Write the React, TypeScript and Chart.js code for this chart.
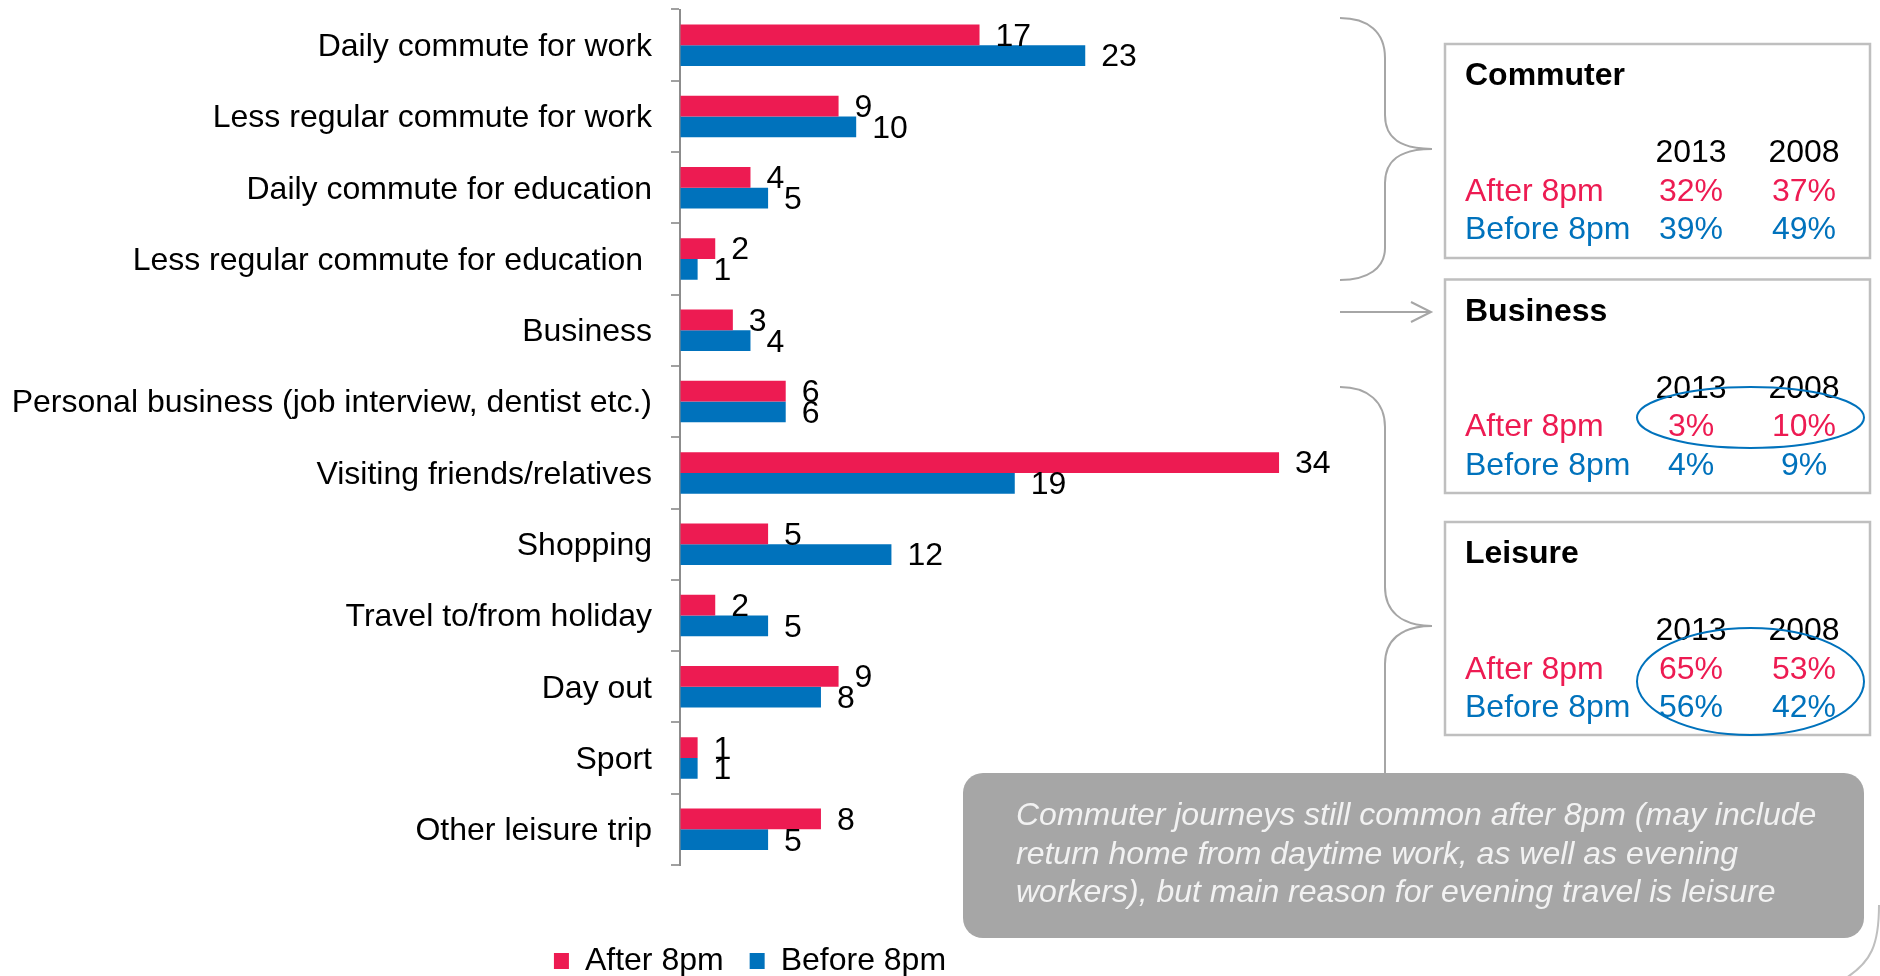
import React, { useEffect, useRef } from "react";
import { Chart, registerables } from "chart.js";

Chart.register(...registerables);

// ---------- data ----------
const categories = [
  "Daily commute for work",
  "Less regular commute for work",
  "Daily commute for education",
  "Less regular commute for education ",
  "Business",
  "Personal business (job interview, dentist etc.)",
  "Visiting friends/relatives",
  "Shopping",
  "Travel to/from holiday",
  "Day out",
  "Sport",
  "Other leisure trip",
];
const afterValues = [17, 9, 4, 2, 3, 6, 34, 5, 2, 9, 1, 8];
const beforeValues = [23, 10, 5, 1, 4, 6, 19, 12, 5, 8, 1, 5];
const seriesNames = ["After 8pm", "Before 8pm"];

const years = ["2013", "2008"];
const panelTitles = ["Commuter", "Business", "Leisure"];
const panelAfter = [
  [32, 37],
  [3, 10],
  [65, 53],
];
const panelBefore = [
  [39, 49],
  [4, 9],
  [56, 42],
];
const noteLines = [
  "Commuter journeys still common after 8pm (may include",
  "return home from daytime work, as well as evening",
  "workers), but main reason for evening travel is leisure",
];

// ---------- styles ----------
const RED = "#ED1B52";
const BLUE = "#0072BC";
const FONT = "'Liberation Sans', Arial, Helvetica, sans-serif";
const FS = 32;

const valueLabels = {
  id: "valueLabels",
  afterDatasetsDraw(chart: any) {
    const ctx = chart.ctx;
    ctx.save();
    ctx.font = `${FS}px ${FONT}`;
    ctx.fillStyle = "#000";
    ctx.textAlign = "left";
    ctx.textBaseline = "middle";
    chart.data.datasets.forEach((ds: any, di: number) => {
      const meta = chart.getDatasetMeta(di);
      meta.data.forEach((bar: any, i: number) => {
        ctx.fillText(String(ds.data[i]), bar.x + 16, bar.y + 2);
      });
    });
    ctx.restore();
  },
};

function BarChart() {
  const ref = useRef<HTMLCanvasElement | null>(null);
  useEffect(() => {
    if (!ref.current) return;
    const chart = new Chart(ref.current, {
      type: "bar",
      data: {
        labels: categories,
        datasets: [
          {
            label: seriesNames[0],
            data: afterValues,
            backgroundColor: RED,
            categoryPercentage: 0.582,
            barPercentage: 1,
          },
          {
            label: seriesNames[1],
            data: beforeValues,
            backgroundColor: BLUE,
            categoryPercentage: 0.582,
            barPercentage: 1,
          },
        ],
      },
      options: {
        indexAxis: "y",
        responsive: false,
        animation: false,
        layout: { padding: { top: 9.5, left: 0, right: 0, bottom: 0 } },
        plugins: {
          legend: {
            position: "bottom",
            labels: {
              font: { size: FS, family: FONT },
              color: "#000",
              boxWidth: 15,
              boxHeight: 16,
              padding: 26,
            },
          },
          tooltip: { enabled: false },
        },
        scales: {
          x: {
            min: 0,
            max: 46.54,
            ticks: { display: false },
            grid: {
              display: true,
              drawOnChartArea: false,
              drawTicks: true,
              tickLength: 54,
              color: "rgba(0,0,0,0)",
            },
            border: { display: false },
          },
          y: {
            ticks: {
              font: { size: FS, family: FONT },
              color: "#000",
              padding: 19,
              labelOffset: 2,
            },
            grid: {
              display: true,
              drawOnChartArea: false,
              drawTicks: true,
              tickLength: 9,
              color: "#a0a0a0",
              lineWidth: 2,
            },
            border: { display: true, color: "#8c8c8c", width: 2 },
            afterFit: (s: any) => {
              s.width = 680;
              s.paddingTop = 0;
              s.paddingBottom = 0;
            },
          },
        },
      } as any,
      plugins: [valueLabels],
    });
    return () => chart.destroy();
  }, []);
  return (
    <canvas
      ref={ref}
      width={1500}
      height={987}
      style={{ position: "absolute", left: 0, top: 0, display: "block" }}
    />
  );
}

const panelTops = [44, 279.5, 522];
const panelHeights = [214, 213.5, 213];

function Overlay() {
  const grey = "#a6a6a6";
  return (
    <svg
      width={1880}
      height={976}
      style={{ position: "absolute", left: 0, top: 0 }}
      fontFamily={FONT}
    >
      {/* braces and arrow */}
      <path
        d="M1340,18 C1368,18 1385,32 1385,58 L1385,115 C1385,138 1400,149 1432,149 C1400,149 1385,160 1385,183 L1385,248 C1385,268 1368,280 1340,280"
        fill="none"
        stroke={grey}
        strokeWidth={2}
      />
      <path d="M1340,312 L1430,312 M1411,302 L1431,312 L1411,322" fill="none" stroke={grey} strokeWidth={2} />
      <path
        d="M1340,387 C1368,387 1385,402 1385,427 L1385,587 C1385,610 1400,626 1432,626 C1400,626 1385,641 1385,664 L1385,800"
        fill="none"
        stroke={grey}
        strokeWidth={2}
      />
      <path d="M1879,905 C1879,945 1871,962 1846,978" fill="none" stroke="#bfbfbf" strokeWidth={2} />

      {/* panels */}
      {panelTitles.map((t, p) => {
        const top = panelTops[p];
        return (
          <g key={t}>
            <rect x={1445} y={top} width={425} height={panelHeights[p]} fill="#fff" stroke="#bfbfbf" strokeWidth={2.5} />
            <text x={1465} y={top + 41} fontSize={FS} fontWeight="bold" fill="#000">
              {t}
            </text>
            {years.map((y, k) => (
              <text key={y} x={k === 0 ? 1691 : 1804} y={top + 118} fontSize={FS} textAnchor="middle" fill="#000">
                {y}
              </text>
            ))}
            <text x={1465} y={top + 156.5} fontSize={FS} fill={RED}>
              {seriesNames[0]}
            </text>
            <text x={1465} y={top + 195} fontSize={FS} fill={BLUE}>
              {seriesNames[1]}
            </text>
            {panelAfter[p].map((v, k) => (
              <text key={"a" + k} x={k === 0 ? 1691 : 1804} y={top + 156.5} fontSize={FS} textAnchor="middle" fill={RED}>
                {v + "%"}
              </text>
            ))}
            {panelBefore[p].map((v, k) => (
              <text key={"b" + k} x={k === 0 ? 1691 : 1804} y={top + 195} fontSize={FS} textAnchor="middle" fill={BLUE}>
                {v + "%"}
              </text>
            ))}
          </g>
        );
      })}
      <ellipse cx={1750.5} cy={417.5} rx={113.5} ry={30.5} fill="none" stroke={BLUE} strokeWidth={2} />
      <ellipse cx={1750.5} cy={681.5} rx={113.5} ry={53.5} fill="none" stroke={BLUE} strokeWidth={2} />

      {/* note box */}
      <rect x={963} y={773} width={901} height={165} rx={20} ry={20} fill="#a6a6a6" />
      {noteLines.map((l, i) => (
        <text key={i} x={1016} y={825 + i * 38.5} fontSize={FS} fontStyle="italic" fill="#f2f2f2">
          {l}
        </text>
      ))}
    </svg>
  );
}

export default function App() {
  return (
    <div
      style={{
        position: "fixed",
        left: 0,
        top: 0,
        width: 1880,
        height: 976,
        overflow: "hidden",
        background: "#fff",
      }}
    >
      <BarChart />
      <Overlay />
    </div>
  );
}
